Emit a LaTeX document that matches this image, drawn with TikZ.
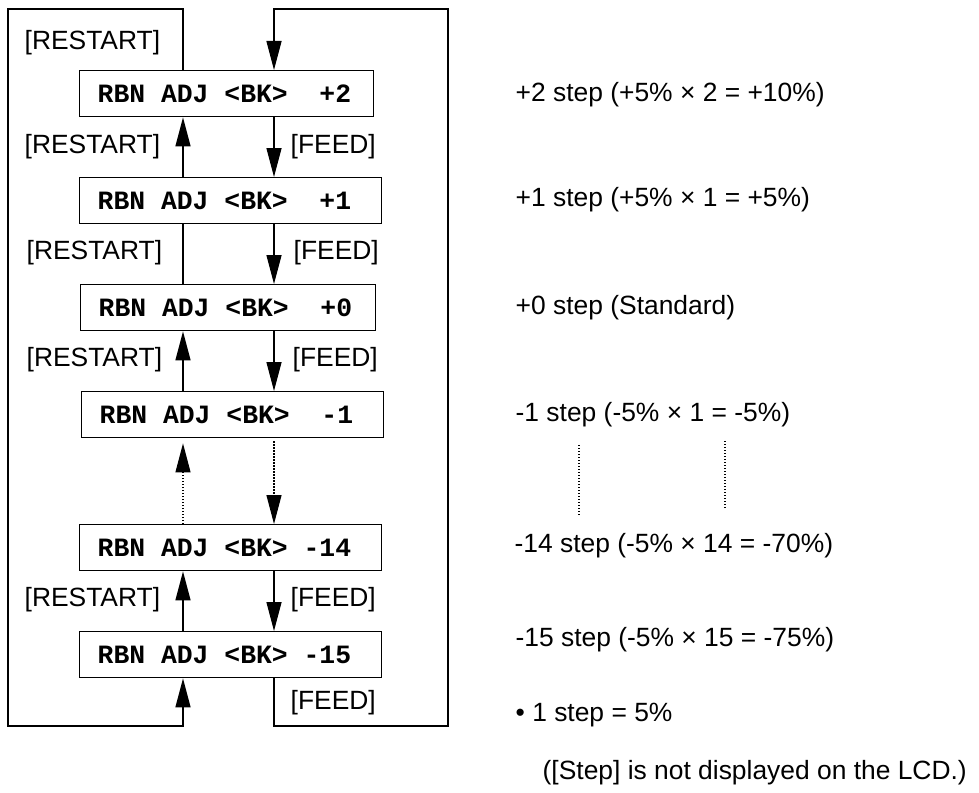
\documentclass[tikz,border=0pt]{standalone}
\usepackage{fontspec}
\setmainfont{Liberation Sans}
\newfontfamily\boxfont{Liberation Mono}
\newcommand\monosp[1]{\hspace*{#1em}}
\usetikzlibrary{arrows.meta}
\begin{document}
\begin{tikzpicture}[x=1pt,y=-1pt,line width=1.4pt,
  lcdbox/.style={draw, rectangle, anchor=north west, minimum height=46pt,
    inner xsep=18pt, inner ysep=0pt, align=left,
    font=\boxfont\bfseries\fontsize{26.4}{30}\selectfont},
  lbl/.style={anchor=west, inner sep=0pt, font=\fontsize{26.4}{30}\selectfont},
  arr/.style={-{Triangle[length=29pt,width=15pt]}},
  dots/.style={dash pattern=on 1.2pt off 1.8pt, line width=1.2pt}]
\useasboundingbox (0,0) rectangle (979,792);

% connector columns
\coordinate (L) at (183,0);
\coordinate (R) at (274,0);

% boxes
\node[lcdbox, text width=258pt] (b2)  at (79,70)  {RBN\monosp{0.6}ADJ\monosp{0.6}<BK>\monosp{1.2}+2};
\node[lcdbox, text width=266pt] (b1)  at (79,177) {RBN\monosp{0.6}ADJ\monosp{0.6}<BK>\monosp{1.2}+1};
\node[lcdbox, text width=259pt] (b0)  at (80,284) {RBN\monosp{0.6}ADJ\monosp{0.6}<BK>\monosp{1.2}+0};
\node[lcdbox, text width=266pt] (bm1) at (81,391) {RBN\monosp{0.6}ADJ\monosp{0.6}<BK>\monosp{1.2}-1};
\node[lcdbox, text width=266pt] (b14) at (79,524) {RBN\monosp{0.6}ADJ\monosp{0.6}<BK>\monosp{0.6}-14};
\node[lcdbox, text width=266pt] (b15) at (79,631) {RBN\monosp{0.6}ADJ\monosp{0.6}<BK>\monosp{0.6}-15};

% loop corners
\coordinate (c1) at (183,9);
\coordinate (c2) at (8,9);
\coordinate (c3) at (8,726);
\coordinate (c4) at (183,726);
\coordinate (d1) at (274,726);
\coordinate (d2) at (448,726);
\coordinate (d3) at (448,9);
\coordinate (d4) at (274,9);

% outer loops
\draw[arr] (b2.north -| L) -- (c1) -- (c2) -- (c3) -- (c4) -- (b15.south -| L);
\draw[arr] (b15.south -| R) -- (d1) -- (d2) -- (d3) -- (d4) -- (b2.north -| R);

% restart (up) connectors
\draw[arr] (b1.north -| L) -- (b2.south -| L);
\draw (b0.north -| L) -- (b1.south -| L);
\draw[arr] (bm1.north -| L) -- (b0.south -| L);
\draw[arr, dots, shorten >=5pt] (b14.north -| L) -- (bm1.south -| L);
\draw[arr] (b15.north -| L) -- (b14.south -| L);

% feed (down) connectors
\draw[arr] (b2.south -| R) -- (b1.north -| R);
\draw[arr] (b1.south -| R) -- (b0.north -| R);
\draw[arr] (b0.south -| R) -- (bm1.north -| R);
\draw[arr, dots, shorten <=3pt] (bm1.south -| R) -- (b14.north -| R);
\draw[arr] (b14.south -| R) -- (b15.north -| R);

% labels
\node[lbl] (r0) at (24,43)  {[RESTART]};
\node[lbl] (r1) at (24,147) {[RESTART]};
\node[lbl] (r2) at (26,253) {[RESTART]};
\node[lbl] (r3) at (26,360) {[RESTART]};
\node[lbl] (r4) at (24,600) {[RESTART]};
\node[lbl] (f1) at (290,147) {[FEED]};
\node[lbl] (f2) at (293,253) {[FEED]};
\node[lbl] (f3) at (292,360) {[FEED]};
\node[lbl] (f4) at (290,600) {[FEED]};
\node[lbl] (f5) at (290,703) {[FEED]};

% right-hand descriptions
\node[lbl] (t2)  at (515,95)  {+2 step (+5\% × 2 = +10\%)};
\node[lbl] (t1)  at (515,200) {+1 step (+5\% × 1 = +5\%)};
\node[lbl] (t0)  at (515,308) {+0 step (Standard)};
\node[lbl] (tm1) at (515,415) {-1 step (-5\% × 1 = -5\%)};
\node[lbl] (t14) at (514,546) {-14 step (-5\% × 14 = -70\%)};
\node[lbl] (t15) at (515,640) {-15 step (-5\% × 15 = -75\%)};
\node[lbl] (n1)  at (515,715) {• 1 step = 5\%};
\node[lbl] (n2)  at (542,773) {([Step] is not displayed on the LCD.)};

% continuation dots
\draw[dots] (579,445) -- (579,516);
\draw[dots] (725,441) -- (725,509);
\end{tikzpicture}
\end{document}
